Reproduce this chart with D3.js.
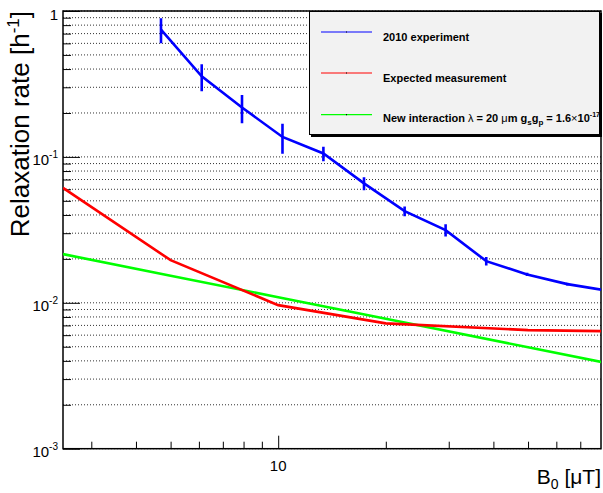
<!DOCTYPE html>
<html><head><meta charset="utf-8">
<script src="https://cdn.jsdelivr.net/npm/d3@7"></script>
<style>body{margin:0;background:#fff}svg{display:block}text{font-family:"Liberation Sans",Arial,sans-serif}</style>
</head><body><svg id="c" width="603" height="493"></svg>
<script>
// Data
const expX   = [4.70, 6.11, 7.92, 10.28, 13.38, 17.38, 22.58, 29.4, 38.2, 49.7, 64.4, 83.8];
const expY   = [0.746, 0.357, 0.218, 0.137, 0.1055, 0.0658, 0.0425, 0.0315, 0.0193, 0.01565, 0.01343, 0.01208];
const expErr = [0.146, 0.075, 0.048, 0.032, 0.012, 0.0067, 0.0033, 0.003, 0.0013, 0.0004, 0.0003, 0.0002];
const expectedX = [2.5, 5, 10, 20, 50, 100];
const expectedY = [0.0613, 0.0196, 0.00964, 0.00723, 0.0065, 0.00635];
const newX = [2.5, 5, 10, 20, 50, 100];
const newY = [0.02157, 0.01533, 0.01093, 0.00777, 0.00496, 0.00353];
const xMajorTicks = [10];
const xMinorTicks = [3,4,5,6,7,8,9,20,30,40,50,60,70];
const yMajorTicks = [0.001, 0.01, 0.1, 1];
const yMajorLabels = [["10","-3"],["10","-2"],["10","-1"],["1",""]];
const legendLabels = ["2010 experiment","Expected measurement","New interaction"];

const svg = d3.select("#c");
const L=63, R=601, T=11, B=448.7;
const x = d3.scaleLog().domain([2.5, 80]).range([L, R]);
const y = d3.scaleLog().domain([1e-3, 1]).range([B, T]);

const yMinorTicks = [];
[0.001,0.01,0.1].forEach(d=>{for(let k=2;k<=9;k++) yMinorTicks.push(d*k);});
const yAll = yMajorTicks.concat(yMinorTicks);

// grid
svg.append("g").selectAll("line").data(yAll).join("line")
  .attr("x1",L).attr("x2",R).attr("y1",d=>y(d)).attr("y2",d=>y(d))
  .attr("stroke","#333").attr("stroke-width",1).attr("stroke-dasharray","1,2");

// axes ticks
const axY1 = d3.axisLeft(y).tickValues(yMajorTicks).tickSize(-17).tickFormat("");
const axY2 = d3.axisLeft(y).tickValues(yMinorTicks).tickSize(-8).tickFormat("");
const axX1 = d3.axisBottom(x).tickValues(xMajorTicks).tickSize(-13).tickFormat("");
const axX2 = d3.axisBottom(x).tickValues(xMinorTicks).tickSize(-7).tickFormat("");
[[axY1,`translate(${L},0)`],[axY2,`translate(${L},0)`],[axX1,`translate(0,${B})`],[axX2,`translate(0,${B})`]].forEach(([a,t])=>{
  const g=svg.append("g").attr("transform",t).call(a);
  g.select(".domain").remove();
  g.selectAll("line").attr("stroke","#000").attr("stroke-width",1);
});

// frame
svg.append("rect").attr("x",L).attr("y",T).attr("width",R-L).attr("height",B-T)
  .attr("fill","none").attr("stroke","#000").attr("stroke-width",1.5);

// tick labels
yMajorTicks.forEach((v,i)=>{
  const t=svg.append("text").attr("x",58).attr("y",y(v)+8.5).attr("text-anchor","end").attr("font-size",15);
  t.append("tspan").text(yMajorLabels[i][0]);
  if(yMajorLabels[i][1]) t.append("tspan").attr("font-size",10).attr("dy",-7).text(yMajorLabels[i][1]);
});
xMajorTicks.forEach(v=>{
  svg.append("text").attr("x",x(v)).attr("y",471).attr("text-anchor","middle").attr("font-size",15).text(String(v));
});

// axis titles
const yt=svg.append("text").attr("transform",`translate(29,${T}) rotate(-90)`).attr("text-anchor","end").attr("font-size",26);
yt.append("tspan").text("Relaxation rate [h");
yt.append("tspan").attr("font-size",17).attr("dy",-10).text("-1");
yt.append("tspan").attr("dy",10).text("]");
const xt=svg.append("text").attr("x",R).attr("y",484).attr("text-anchor","end").attr("font-size",21);
xt.append("tspan").text("B");
xt.append("tspan").attr("font-size",14).attr("dy",5).text("0");
xt.append("tspan").attr("dy",-5).text(" [\u03bcT]");

// clip
svg.append("clipPath").attr("id","clip").append("rect").attr("x",L).attr("y",T).attr("width",R-L).attr("height",B-T);
const plot=svg.append("g").attr("clip-path","url(#clip)");
const line=d3.line().x(d=>x(d[0])).y(d=>y(d[1]));

plot.append("path").attr("d",line(d3.zip(newX,newY))).attr("fill","none").attr("stroke","#00ff00").attr("stroke-width",2.6);
plot.append("path").attr("d",line(d3.zip(expectedX,expectedY))).attr("fill","none").attr("stroke","#ff0000").attr("stroke-width",2.6);
plot.append("path").attr("d",line(d3.zip(expX,expY))).attr("fill","none").attr("stroke","#0000ff").attr("stroke-width",2.6);
plot.append("g").selectAll("line").data(d3.range(expX.length)).join("line")
  .attr("x1",i=>x(expX[i])).attr("x2",i=>x(expX[i]))
  .attr("y1",i=>y(expY[i]+expErr[i])).attr("y2",i=>y(expY[i]-expErr[i]))
  .attr("stroke","#0000ff").attr("stroke-width",2.6);

// legend
const lg=svg.append("g");
lg.append("rect").attr("x",311).attr("y",13).attr("width",291).attr("height",124).attr("fill","#000");
lg.append("rect").attr("x",309.5).attr("y",11.5).attr("width",290).attr("height",123).attr("fill","#f2f2f2").attr("stroke","#000").attr("stroke-width",1);
const colors=["#0000ff","#ff0000","#00ff00"];
const rowsY=[32,73,114.7];
rowsY.forEach((ry,i)=>{
  lg.append("line").attr("x1",321).attr("x2",372).attr("y1",ry).attr("y2",ry).attr("stroke",colors[i]).attr("stroke-width",1.2);
  lg.append("line").attr("x1",346).attr("x2",347).attr("y1",ry).attr("y2",ry).attr("stroke","#000").attr("stroke-width",1.2);
});
lg.append("text").attr("x",383).attr("y",40.7).attr("font-size",11).attr("font-weight","bold").text(legendLabels[0]);
lg.append("text").attr("x",383).attr("y",82).attr("font-size",11).attr("font-weight","bold").text(legendLabels[1]);
const t3=lg.append("text").attr("x",383).attr("y",121.5).attr("font-size",11).attr("font-weight","bold");
t3.append("tspan").text(legendLabels[2]+" ");
t3.append("tspan").attr("font-weight","normal").text("\u03bb");
t3.append("tspan").text(" = 20 ");
t3.append("tspan").attr("font-weight","normal").text("\u03bc");
t3.append("tspan").text("m g");
t3.append("tspan").attr("font-size",8).attr("dy",3).text("s");
t3.append("tspan").attr("dy",-3).text("g");
t3.append("tspan").attr("font-size",8).attr("dy",3).text("p");
t3.append("tspan").attr("dy",-3).text(" = 1.6");
t3.append("tspan").attr("font-weight","normal").text("\u00d7");
t3.append("tspan").text("10");
t3.append("tspan").attr("font-size",7).attr("dy",-5).text("-17");
</script></body></html>
